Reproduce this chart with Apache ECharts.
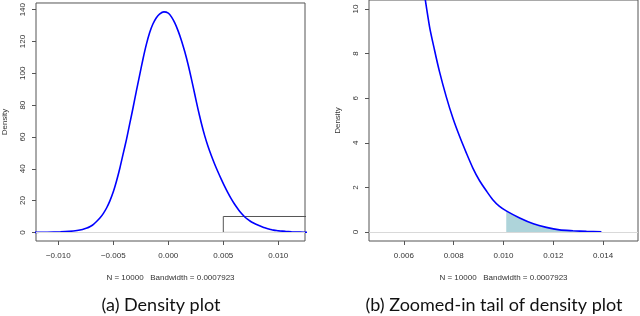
<!DOCTYPE html>
<html>
<head>
<meta charset="utf-8">
<script src="https://cdn.jsdelivr.net/npm/echarts@6/dist/echarts.min.js"></script>
<style>
html,body{margin:0;padding:0;background:#fff;}
#chart{width:640px;height:316px;}
</style>
</head>
<body>
<div id="chart"></div>
<script>
// Density curve (x, density)
const densX = [-0.0125, -0.0110, -0.0098, -0.0090, -0.0083, -0.0078, -0.0074, -0.0071, -0.0068, -0.0065,
  -0.0062, -0.0059, -0.0056, -0.0053, -0.0050, -0.0047, -0.0044, -0.0041, -0.0038, -0.0035,
  -0.0032, -0.0029, -0.0026, -0.0023, -0.0020, -0.0017, -0.0014, -0.0011, -0.0008, -0.0004,
  0.0000, 0.0003, 0.0006, 0.0009, 0.0012, 0.0015, 0.0018, 0.0021, 0.0024, 0.0027,
  0.0030, 0.0033, 0.0036, 0.0039, 0.0042, 0.0045, 0.0048, 0.0051, 0.0054, 0.0057,
  0.0060, 0.0063, 0.0065, 0.0067, 0.00703, 0.00723, 0.00743, 0.0077, 0.00797, 0.00824,
  0.00851, 0.00877, 0.00904, 0.00931, 0.00957, 0.00984, 0.01011, 0.01065, 0.0112, 0.01172,
  0.01225, 0.01279, 0.01333, 0.01393];
const densY = [0.02, 0.12, 0.35, 0.65, 1.15, 1.8, 2.7, 3.7, 5.1, 7.0,
  9.2, 12.0, 15.5, 20.0, 25.5, 32.5, 40.5, 49.5, 58.5, 68.5,
  78.5, 89.0, 99.0, 109.0, 118.0, 125.5, 131.0, 134.8, 137.2, 138.6,
  137.8, 135.3, 131.5, 126.5, 120.5, 113.5, 105.5, 96.5, 87.0, 77.5,
  68.8, 61.0, 54.3, 48.5, 43.2, 38.3, 33.7, 29.3, 25.2, 21.4,
  18.0, 15.0, 13.2, 11.6, 9.21, 8.16, 7.19, 6.07, 5.1, 4.28,
  3.54, 2.87, 2.30, 1.85, 1.45, 1.15, 0.95, 0.63, 0.37, 0.21,
  0.10, 0.06, 0.03, 0.01];
const tailStart = 0.0101;          // start of the shaded tail
const zoomBoxX = [0.005, 0.015];   // zoom window (x)
const zoomBoxY = [0, 10];          // zoom window (y)

const xTicksA = [-0.010, -0.005, 0.000, 0.005, 0.010];
const yTicksA = [0, 20, 40, 60, 80, 100, 120, 140];
const xTicksB = [0.006, 0.008, 0.010, 0.012, 0.014];
const yTicksB = [0, 2, 4, 6, 8, 10];

const xLabel = 'N = 10000   Bandwidth = 0.0007923';
const yLabel = 'Density';
const captionA = '(a) Density plot';
const captionB = '(b) Zoomed-in tail of density plot';

const curve = densX.map((x, i) => [x, densY[i]]);
const tail = curve.filter(p => p[0] >= tailStart);
const box = [[zoomBoxX[0], zoomBoxY[0]], [zoomBoxX[0], zoomBoxY[1]], [zoomBoxX[1], zoomBoxY[1]], [zoomBoxX[1], zoomBoxY[0]], [zoomBoxX[0], zoomBoxY[0]]];

const fmtX = v => (v < 0 ? '\u2212' : '') + Math.abs(v).toFixed(3);
const F = 'Liberation Sans, Arial, sans-serif';
const textCol = '#333';
const boxCol = '#555';

function xAx(gridIndex, min, max, ticks) {
  return {
    type: 'value', gridIndex, min, max, position: 'bottom',
    axisLine: { show: false, onZero: false },
    splitLine: { show: false },
    axisTick: { show: true, inside: false, length: 4, customValues: ticks, lineStyle: { color: boxCol, width: 1 } },
    axisLabel: { customValues: ticks, formatter: fmtX, margin: 11, fontFamily: F, fontSize: 8, color: textCol },
    name: xLabel, nameLocation: 'middle', nameGap: 33,
    nameTextStyle: { fontFamily: F, fontSize: 8, color: textCol }
  };
}
function yAx(gridIndex, min, max, ticks) {
  return {
    type: 'value', gridIndex, min, max, position: 'left',
    axisLine: { show: false, onZero: false },
    splitLine: { show: false },
    axisTick: { show: true, inside: false, length: 4, customValues: ticks, lineStyle: { color: boxCol, width: 1 } },
    axisLabel: { customValues: ticks, rotate: 90, margin: 9, fontFamily: F, fontSize: 8, color: textCol },
    name: yLabel, nameLocation: 'middle', nameRotate: 90, nameGap: 27,
    nameTextStyle: { fontFamily: F, fontSize: 8, color: textCol }
  };
}
const zeroLine = {
  silent: true, symbol: 'none', label: { show: false },
  lineStyle: { color: '#d9d9d9', type: 'solid', width: 1 },
  data: [{ yAxis: 0 }]
};
const lineCommon = { type: 'line', showSymbol: false, smooth: 0.25, clip: true };

const chart = echarts.init(document.getElementById('chart'), null, { renderer: 'canvas' });
chart.setOption({
  animation: false,
  backgroundColor: '#fff',
  grid: [
    { left: 36, top: 0, width: 269, height: 241, show: true, borderColor: boxCol, borderWidth: 1, backgroundColor: 'transparent' },
    { left: 369, top: 0, width: 269, height: 241, show: true, borderColor: boxCol, borderWidth: 1, backgroundColor: 'transparent' }
  ],
  xAxis: [xAx(0, -0.012027, 0.012427, xTicksA), xAx(1, 0.0046, 0.0154, xTicksB)],
  yAxis: [yAx(0, -5.4, 144.2, yTicksA), yAx(1, -0.4, 10.4, yTicksB)],
  series: [
    { type: 'line', xAxisIndex: 0, yAxisIndex: 0, data: [], markLine: zeroLine },
    Object.assign({}, lineCommon, { xAxisIndex: 0, yAxisIndex: 0, data: curve, lineStyle: { color: '#0000ff', width: 1.6 }, z: 3 }),
    { type: 'line', xAxisIndex: 0, yAxisIndex: 0, data: box, showSymbol: false, smooth: false,
      lineStyle: { color: boxCol, width: 1 }, clip: true, z: 2 },
    { type: 'line', xAxisIndex: 1, yAxisIndex: 1, data: [], markLine: zeroLine },
    Object.assign({}, lineCommon, { xAxisIndex: 1, yAxisIndex: 1, data: tail, lineStyle: { width: 0 }, areaStyle: { color: '#aed4da', opacity: 1 }, z: 2 }),
    Object.assign({}, lineCommon, { xAxisIndex: 1, yAxisIndex: 1, data: curve, lineStyle: { color: '#0000ff', width: 1.6 }, z: 3 })
  ],
  graphic: [
    { type: 'text', x: 161, y: 305, style: { text: captionA, fontFamily: 'Lato, sans-serif', fontSize: 18, fill: '#111', align: 'center', verticalAlign: 'middle' } },
    { type: 'text', x: 494, y: 305, style: { text: captionB, fontFamily: 'Lato, sans-serif', fontSize: 18, fill: '#111', align: 'center', verticalAlign: 'middle' } }
  ]
});
</script>
</body>
</html>
